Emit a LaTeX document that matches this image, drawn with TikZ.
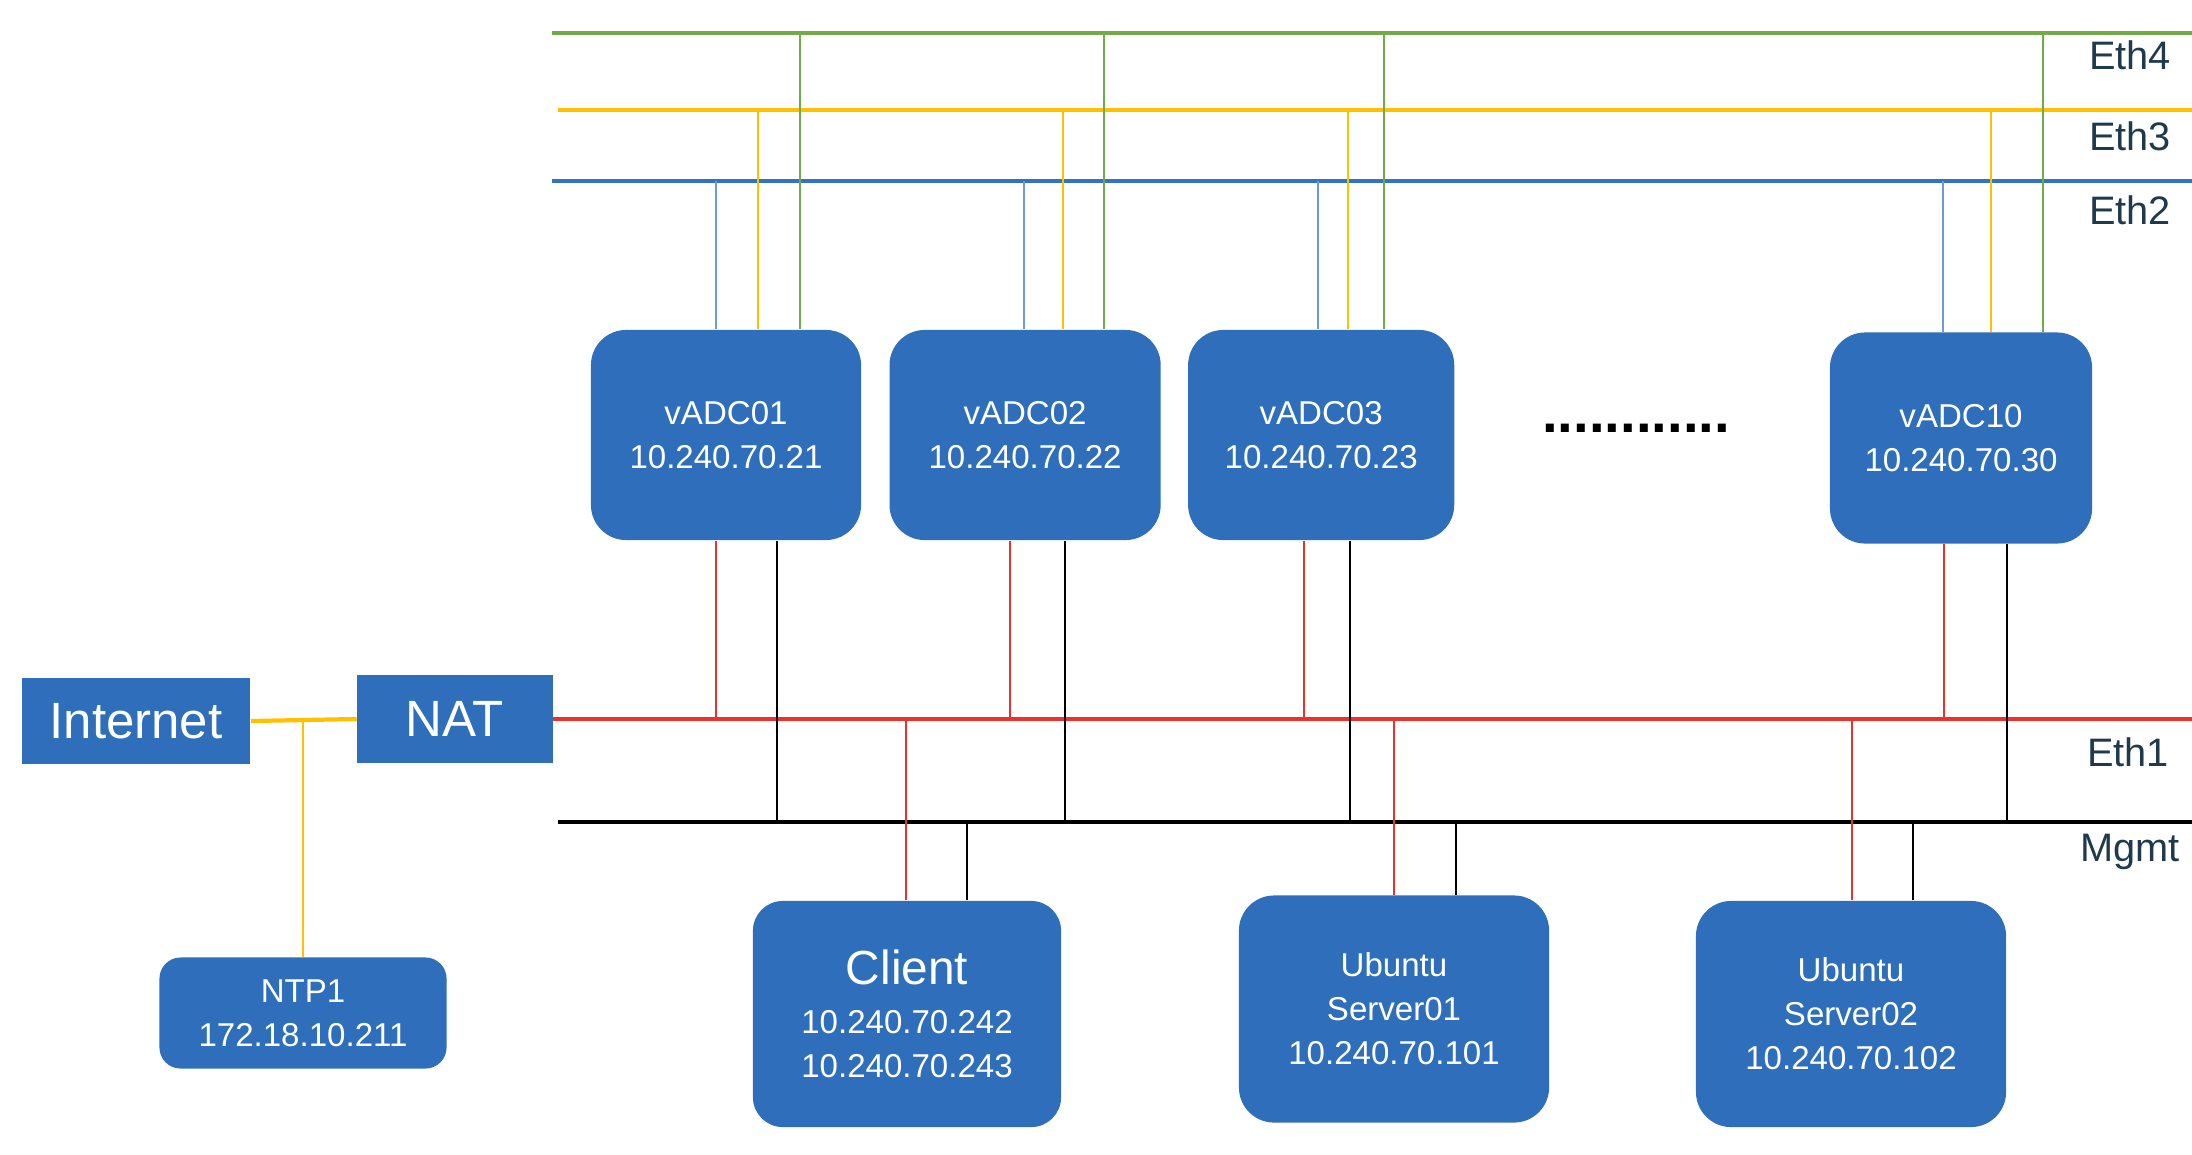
\documentclass[tikz,border=0pt]{standalone}
\usepackage{fontspec}
\setmainfont{Liberation Sans}
\usepackage{xcolor}
\usepackage{tikz}
\usetikzlibrary{positioning}

\definecolor{boxblue}{HTML}{2F6EBA}
\definecolor{ethfour}{HTML}{70AD47}
\definecolor{eththree}{HTML}{FFC000}
\definecolor{ethtwo}{HTML}{3472C4}
\definecolor{ethtwodrop}{HTML}{6C9BD6}
\definecolor{ethone}{HTML}{E8322A}
\definecolor{labelcol}{HTML}{1F3A4D}

\begin{document}
\begin{tikzpicture}[
    x=0.01cm, y=-0.01cm,
    box/.style={rectangle, rounded corners=10pt, fill=boxblue, text=white, align=center, inner sep=0pt, font={\fontsize{9.4}{12.5}\selectfont}},
    sqbox/.style={rectangle, fill=boxblue, text=white, inner sep=0pt, font={\fontsize{14.5}{16}\selectfont}},
    bus/.style={line width=1pt},
    drop/.style={line width=0.65pt},
    netlabel/.style={text=labelcol, font={\fontsize{11.3}{13}\selectfont}}
]
\useasboundingbox (0,0) rectangle (2192,1154);

% Uplink side
\node[sqbox, minimum width=2.28cm, minimum height=0.85cm] (inet) at (136,721) {Internet};
\node[sqbox, minimum width=1.95cm, minimum height=0.87cm] (nat) at (455,719) {NAT};
\node[box, rounded corners=6pt, minimum width=2.87cm, minimum height=1.11cm] (ntp) at (303,1013) {NTP1\\172.18.10.211};

% vADC instances
\node[box, minimum width=2.7cm, minimum height=2.1cm] (vadc1) at (726,435) {vADC01\\10.240.70.21};
\node[box, minimum width=2.71cm, minimum height=2.1cm, right=0.27cm of vadc1] (vadc2) {vADC02\\10.240.70.22};
\node[box, minimum width=2.66cm, minimum height=2.1cm, right=0.26cm of vadc2] (vadc3) {vADC03\\10.240.70.23};
\node[inner sep=0pt, font={\fontsize{16}{16}\selectfont\bfseries}] (dots) at (1636,428) {............};
\node[box, minimum width=2.62cm, minimum height=2.11cm] (vadc10) at (1961,438) {vADC10\\10.240.70.30};

% Hosts
\node[box, rounded corners=8.5pt, minimum width=3.08cm, minimum height=2.26cm] (client) at (907,1014) {{\fontsize{13.6}{15}\selectfont Client}\\[1.5pt]10.240.70.242\\10.240.70.243};
\node[box, minimum width=3.1cm, minimum height=2.27cm] (srv1) at (1394,1009) {Ubuntu\\Server01\\10.240.70.101};
\node[box, minimum width=3.1cm, minimum height=2.26cm] (srv2) at (1851,1014) {Ubuntu\\Server02\\10.240.70.102};

% Buses
\coordinate (e4a) at (552,33);
\coordinate (e4b) at (2192,33);
\coordinate (e3a) at (558,110);
\coordinate (e3b) at (2192,110);
\coordinate (e2a) at (552,181);
\coordinate (e2b) at (2192,181);
\coordinate (mga) at (558,822);
\coordinate (mgb) at (2192,822);
\draw[bus, ethfour] (e4a) -- (e4b);
\draw[bus, eththree] (e3a) -- (e3b);
\draw[bus, ethtwo] (e2a) -- (e2b);
\draw[bus, ethone] (nat.east) -- (2192,0 |- nat.east);
\draw[bus] (mga) -- (mgb);

% Internet and NTP
\draw[line width=1.2pt, eththree] (inet.east) -- (nat.west);
\draw[line width=0.7pt, eththree] (ntp.north) -- (ntp.north |- inet.east);

% Eth2 / Eth3 / Eth4 drops
\draw[drop, ethtwodrop] (716,0 |- vadc1.north) -- (716,0 |- e2a);
\draw[drop, eththree] (758,0 |- vadc1.north) -- (758,0 |- e3a);
\draw[drop, ethfour] (800,0 |- vadc1.north) -- (800,0 |- e4a);
\draw[drop, ethtwodrop] (1024,0 |- vadc2.north) -- (1024,0 |- e2a);
\draw[drop, eththree] (1063,0 |- vadc2.north) -- (1063,0 |- e3a);
\draw[drop, ethfour] (1104,0 |- vadc2.north) -- (1104,0 |- e4a);
\draw[drop, ethtwodrop] (1318,0 |- vadc3.north) -- (1318,0 |- e2a);
\draw[drop, eththree] (1348,0 |- vadc3.north) -- (1348,0 |- e3a);
\draw[drop, ethfour] (1384,0 |- vadc3.north) -- (1384,0 |- e4a);
\draw[drop, ethtwodrop] (1943,0 |- vadc10.north) -- (1943,0 |- e2a);
\draw[drop, eththree] (1991,0 |- vadc10.north) -- (1991,0 |- e3a);
\draw[drop, ethfour] (2043,0 |- vadc10.north) -- (2043,0 |- e4a);

% Eth1 / Mgmt drops
\draw[drop, ethone] (716,0 |- vadc1.south) -- (716,0 |- nat.east);
\draw[drop] (777,0 |- vadc1.south) -- (777,0 |- mga);
\draw[drop, ethone] (1010,0 |- vadc2.south) -- (1010,0 |- nat.east);
\draw[drop] (1065,0 |- vadc2.south) -- (1065,0 |- mga);
\draw[drop, ethone] (1304,0 |- vadc3.south) -- (1304,0 |- nat.east);
\draw[drop] (1350,0 |- vadc3.south) -- (1350,0 |- mga);
\draw[drop, ethone] (1944,0 |- vadc10.south) -- (1944,0 |- nat.east);
\draw[drop] (2007,0 |- vadc10.south) -- (2007,0 |- mga);
\draw[drop, ethone] (906,0 |- client.north) -- (906,0 |- nat.east);
\draw[drop] (967,0 |- client.north) -- (967,0 |- mga);
\draw[drop, ethone] (1394,0 |- srv1.north) -- (1394,0 |- nat.east);
\draw[drop] (1456,0 |- srv1.north) -- (1456,0 |- mga);
\draw[drop, ethone] (1852,0 |- srv2.north) -- (1852,0 |- nat.east);
\draw[drop] (1913,0 |- srv2.north) -- (1913,0 |- mga);

% Network labels
\node[netlabel] (lbl4) at (2130,55) {Eth4};
\node[netlabel] (lbl3) at (2130,136) {Eth3};
\node[netlabel] (lbl2) at (2130,210) {Eth2};
\node[netlabel] (lbl1) at (2128,752) {Eth1};
\node[netlabel] (lblm) at (2130,852) {Mgmt};

\end{tikzpicture}
\end{document}
